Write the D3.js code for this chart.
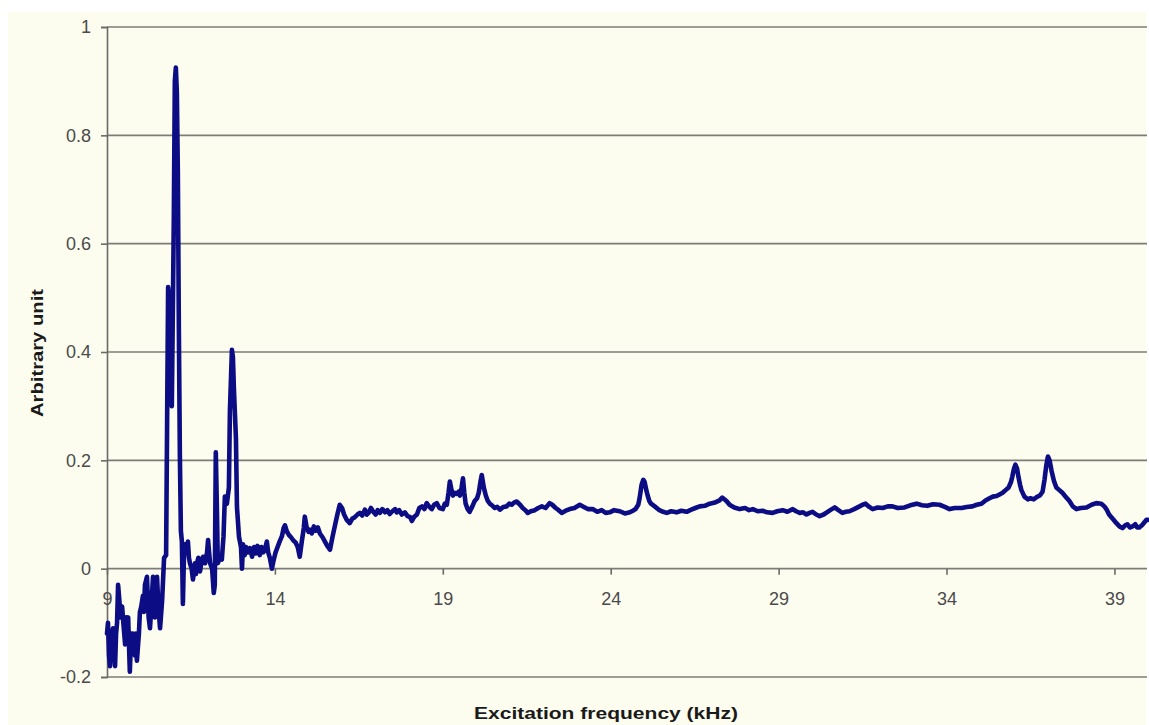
<!DOCTYPE html>
<html>
<head>
<meta charset="utf-8">
<script src="https://cdn.jsdelivr.net/npm/d3@7"></script>
<style>
  html, body { margin: 0; padding: 0; background: #ffffff; }
  svg { display: block; }
</style>
</head>
<body>
<svg id="chart" width="1149" height="725"></svg>
<script>
// Excitation frequency sweep (kHz) and measured response (arbitrary unit)
const freqKHz = [
  9.00, 9.03, 9.06, 9.09, 9.12, 9.15, 9.18, 9.21, 9.24, 9.27,
  9.30, 9.33, 9.37, 9.40, 9.45, 9.50, 9.54, 9.57, 9.60, 9.63,
  9.68, 9.71, 9.74, 9.77, 9.80, 9.83, 9.86, 9.89, 9.95, 9.98,
  10.02, 10.07, 10.10, 10.13, 10.19, 10.24, 10.28, 10.33, 10.37, 10.40,
  10.43, 10.49, 10.53, 10.58, 10.64, 10.70, 10.76, 10.79, 10.82, 10.85,
  10.90, 10.93, 10.96, 10.99, 11.02, 11.05, 11.08, 11.11, 11.14, 11.17,
  11.20, 11.23, 11.26, 11.29, 11.32, 11.36, 11.41, 11.44, 11.47, 11.52,
  11.56, 11.62, 11.65, 11.68, 11.72, 11.77, 11.82, 11.86, 11.92, 11.98,
  12.01, 12.04, 12.07, 12.13, 12.18, 12.21, 12.24, 12.27, 12.30, 12.36,
  12.42, 12.47, 12.51, 12.57, 12.63, 12.66, 12.72, 12.75, 12.78, 12.84,
  12.87, 12.93, 12.99, 13.02, 13.05, 13.10, 13.14, 13.20, 13.26, 13.32,
  13.38, 13.43, 13.48, 13.55, 13.60, 13.65, 13.70, 13.76, 13.80, 13.85,
  13.91, 13.96, 14.02, 14.08, 14.14, 14.21, 14.26, 14.30, 14.36, 14.42,
  14.48, 14.55, 14.62, 14.68, 14.74, 14.80, 14.86, 14.89, 14.95, 15.00,
  15.04, 15.10, 15.16, 15.22, 15.28, 15.34, 15.42, 15.49, 15.56, 15.64,
  15.72, 15.79, 15.86, 15.93, 16.00, 16.06, 16.14, 16.23, 16.30, 16.38,
  16.46, 16.53, 16.60, 16.68, 16.74, 16.80, 16.86, 16.92, 17.00, 17.06,
  17.13, 17.20, 17.28, 17.35, 17.42, 17.50, 17.58, 17.63, 17.70, 17.78,
  17.87, 17.95, 18.03, 18.08, 18.15, 18.23, 18.30, 18.38, 18.45, 18.52,
  18.60, 18.67, 18.74, 18.82, 18.90, 19.00, 19.06, 19.12, 19.17, 19.21,
  19.26, 19.30, 19.36, 19.42, 19.47, 19.51, 19.56, 19.60, 19.64, 19.68,
  19.74, 19.80, 19.88, 19.95, 20.02, 20.07, 20.12, 20.16, 20.22, 20.28,
  20.34, 20.40, 20.48, 20.55, 20.62, 20.70, 20.80, 20.90, 20.98, 21.05,
  21.12, 21.20, 21.30, 21.38, 21.46, 21.53, 21.62, 21.74, 21.84, 21.95,
  22.06, 22.18, 22.26, 22.36, 22.45, 22.54, 22.66, 22.78, 22.92, 23.08,
  23.20, 23.32, 23.46, 23.60, 23.73, 23.85, 23.97, 24.10, 24.27, 24.42,
  24.57, 24.66, 24.74, 24.82, 24.86, 24.92, 24.97, 25.01, 25.06, 25.10,
  25.15, 25.20, 25.31, 25.45, 25.56, 25.67, 25.80, 25.96, 26.10, 26.26,
  26.40, 26.52, 26.65, 26.80, 26.95, 27.10, 27.24, 27.32, 27.39, 27.46,
  27.54, 27.68, 27.84, 28.00, 28.12, 28.23, 28.38, 28.52, 28.66, 28.82,
  28.96, 29.12, 29.26, 29.42, 29.52, 29.63, 29.73, 29.83, 29.92, 30.01,
  30.12, 30.22, 30.34, 30.46, 30.56, 30.67, 30.78, 30.90, 31.00, 31.11,
  31.25, 31.41, 31.50, 31.59, 31.70, 31.80, 31.95, 32.10, 32.25, 32.39,
  32.55, 32.75, 32.92, 33.11, 33.27, 33.43, 33.60, 33.79, 33.95, 34.09,
  34.25, 34.45, 34.60, 34.77, 34.90, 35.04, 35.16, 35.28, 35.38, 35.49,
  35.58, 35.67, 35.76, 35.85, 35.92, 35.96, 36.01, 36.05, 36.10, 36.14,
  36.19, 36.23, 36.32, 36.42, 36.50, 36.60, 36.68, 36.78, 36.86, 36.92,
  36.97, 37.02, 37.07, 37.13, 37.20, 37.27, 37.36, 37.45, 37.56, 37.66,
  37.76, 37.87, 38.00, 38.17, 38.32, 38.46, 38.61, 38.70, 38.76, 38.84,
  38.91, 38.98, 39.06, 39.15, 39.24, 39.32, 39.39, 39.46, 39.54, 39.62,
  39.68, 39.74, 39.82, 39.90, 39.95, 40.00
];
const response = [
  -0.12, -0.10, -0.16, -0.18, -0.13, -0.12, -0.11, -0.15, -0.18, -0.12,
  -0.10, -0.03, -0.06, -0.09, -0.07, -0.11, -0.14, -0.09, -0.10, -0.09,
  -0.19, -0.14, -0.12, -0.12, -0.15, -0.16, -0.12, -0.17, -0.12, -0.08,
  -0.07, -0.05, -0.08, -0.03, -0.015, -0.09, -0.11, -0.06, -0.015, -0.05,
  -0.09, -0.015, -0.07, -0.11, -0.06, 0.02, 0.025, 0.27, 0.52, 0.50,
  0.32, 0.30, 0.47, 0.65, 0.90, 0.925, 0.88, 0.73, 0.44, 0.21,
  0.07, 0.05, -0.065, 0.02, 0.045, 0.03, 0.05, 0.02, 0.01, 0.0,
  -0.02, 0.01, -0.01, 0.01, 0.02, -0.005, 0.015, 0.022, 0.01, 0.03,
  0.053, 0.03, 0.01, 0.0, -0.045, -0.03, 0.215, 0.12, 0.01, 0.02,
  0.017, 0.06, 0.133, 0.12, 0.15, 0.29, 0.404, 0.39, 0.33, 0.24,
  0.114, 0.059, 0.04, 0.0, 0.045, 0.025, 0.04, 0.03, 0.038, 0.022,
  0.04, 0.028, 0.042, 0.025, 0.04, 0.03, 0.035, 0.05, 0.03, 0.02,
  0.0, 0.015, 0.03, 0.04, 0.05, 0.06, 0.075, 0.08, 0.068, 0.062,
  0.058, 0.052, 0.048, 0.04, 0.022, 0.05, 0.075, 0.096, 0.075, 0.068,
  0.072, 0.065, 0.078, 0.07, 0.076, 0.065, 0.058, 0.05, 0.042, 0.035,
  0.06, 0.08, 0.10, 0.118, 0.112, 0.10, 0.09, 0.084, 0.092, 0.095,
  0.10, 0.103, 0.098, 0.109, 0.10, 0.104, 0.112, 0.106, 0.10, 0.108,
  0.103, 0.11, 0.104, 0.108, 0.101, 0.106, 0.11, 0.104, 0.108, 0.10,
  0.104, 0.097, 0.095, 0.088, 0.096, 0.10, 0.112, 0.115, 0.11, 0.121,
  0.114, 0.11, 0.118, 0.121, 0.112, 0.11, 0.12, 0.118, 0.14, 0.161,
  0.145, 0.135, 0.14, 0.138, 0.142, 0.135, 0.15, 0.167, 0.14, 0.12,
  0.11, 0.105, 0.115, 0.125, 0.13, 0.14, 0.16, 0.173, 0.15, 0.135,
  0.125, 0.12, 0.116, 0.112, 0.114, 0.109, 0.114, 0.115, 0.12, 0.118,
  0.122, 0.124, 0.118, 0.112, 0.108, 0.103, 0.106, 0.108, 0.112, 0.115,
  0.112, 0.121, 0.118, 0.112, 0.108, 0.103, 0.107, 0.11, 0.112, 0.118,
  0.114, 0.11, 0.11, 0.105, 0.108, 0.103, 0.104, 0.108, 0.106, 0.102,
  0.104, 0.107, 0.11, 0.118, 0.13, 0.155, 0.164, 0.16, 0.145, 0.135,
  0.125, 0.12, 0.115, 0.108, 0.105, 0.103, 0.106, 0.104, 0.107, 0.105,
  0.109, 0.112, 0.115, 0.116, 0.12, 0.122, 0.126, 0.131, 0.128, 0.124,
  0.118, 0.113, 0.11, 0.112, 0.108, 0.11, 0.106, 0.107, 0.104, 0.103,
  0.106, 0.108, 0.105, 0.11, 0.106, 0.103, 0.104, 0.10, 0.103, 0.105,
  0.10, 0.097, 0.10, 0.105, 0.109, 0.113, 0.108, 0.103, 0.105, 0.106,
  0.11, 0.115, 0.118, 0.12, 0.114, 0.11, 0.113, 0.112, 0.115, 0.115,
  0.112, 0.113, 0.117, 0.12, 0.117, 0.116, 0.119, 0.118, 0.114, 0.11,
  0.112, 0.112, 0.114, 0.115, 0.118, 0.12, 0.126, 0.13, 0.133, 0.134,
  0.137, 0.14, 0.145, 0.15, 0.16, 0.17, 0.185, 0.192, 0.185, 0.17,
  0.155, 0.145, 0.133, 0.128, 0.13, 0.128, 0.132, 0.135, 0.142, 0.165,
  0.19, 0.207, 0.20, 0.18, 0.162, 0.15, 0.145, 0.14, 0.132, 0.125,
  0.115, 0.11, 0.112, 0.113, 0.118, 0.121, 0.12, 0.115, 0.11, 0.10,
  0.095, 0.09, 0.084, 0.078, 0.075, 0.08, 0.082, 0.076, 0.078, 0.082,
  0.076, 0.076, 0.08, 0.086, 0.09, 0.09
];

const xTicks = [9, 14, 19, 24, 29, 34, 39];
const yTicks = [-0.2, 0, 0.2, 0.4, 0.6, 0.8, 1];
const xTitle = "Excitation frequency (kHz)";
const yTitle = "Arbitrary unit";

const svg = d3.select("#chart");

// chart area background
svg.append("rect")
  .attr("x", 8).attr("y", 12)
  .attr("width", 1138).attr("height", 713)
  .attr("fill", "#fdfdef");

const x = d3.scaleLinear().domain([9, 40]).range([107, 1148]);
const y = d3.scaleLinear().domain([-0.2, 1]).range([677, 27]);

// horizontal gridlines
svg.append("g")
  .selectAll("line")
  .data(yTicks)
  .join("line")
  .attr("x1", x(9)).attr("x2", 1147)
  .attr("y1", d => y(d)).attr("y2", d => y(d))
  .attr("stroke", "#7c7c78")
  .attr("stroke-width", 1.6);

// y axis (plain hyphen for negative labels)
const yAxis = svg.append("g")
  .attr("transform", `translate(${x(9)},0)`)
  .call(d3.axisLeft(y).tickValues(yTicks).tickSize(6).tickPadding(10)
    .tickFormat(d => String(+d.toFixed(1))));
yAxis.select(".domain").attr("stroke", "#6a6a66").attr("stroke-width", 1.6);
yAxis.selectAll(".tick line").attr("stroke", "#6a6a66").attr("stroke-width", 1.6);
yAxis.selectAll(".tick text")
  .attr("font-family", "'Liberation Sans', Arial, sans-serif")
  .attr("font-size", 18)
  .attr("fill", "#4a4a4a");

// x axis crosses at zero
const xAxis = svg.append("g")
  .attr("transform", `translate(0,${y(0)})`)
  .call(d3.axisBottom(x).tickValues(xTicks).tickSize(6).tickPadding(18)
    .tickFormat(d3.format("d")));
xAxis.select(".domain").remove();
xAxis.selectAll(".tick line").attr("stroke", "#6a6a66").attr("stroke-width", 1.6);
xAxis.selectAll(".tick text")
  .attr("font-family", "'Liberation Sans', Arial, sans-serif")
  .attr("font-size", 18)
  .attr("fill", "#4a4a4a");

// response trace
const pts = freqKHz.map((f, i) => [f, response[i]]);
svg.append("path")
  .datum(pts)
  .attr("fill", "none")
  .attr("stroke", "#0c0c85")
  .attr("stroke-width", 4.6)
  .attr("stroke-linejoin", "round")
  .attr("stroke-linecap", "round")
  .attr("d", d3.line().x(d => x(d[0])).y(d => y(d[1])));

// axis titles
svg.append("text")
  .attr("x", 606).attr("y", 719)
  .attr("text-anchor", "middle")
  .attr("font-family", "'Liberation Sans', Arial, sans-serif")
  .attr("font-weight", "bold")
  .attr("font-size", 17)
  .attr("fill", "#1a1a1a")
  .attr("textLength", 264)
  .attr("lengthAdjust", "spacingAndGlyphs")
  .text(xTitle);

svg.append("text")
  .attr("transform", "translate(43,353) rotate(-90)")
  .attr("text-anchor", "middle")
  .attr("font-family", "'Liberation Sans', Arial, sans-serif")
  .attr("font-weight", "bold")
  .attr("font-size", 17)
  .attr("fill", "#1a1a1a")
  .attr("textLength", 128)
  .attr("lengthAdjust", "spacingAndGlyphs")
  .text(yTitle);
</script>
</body>
</html>
